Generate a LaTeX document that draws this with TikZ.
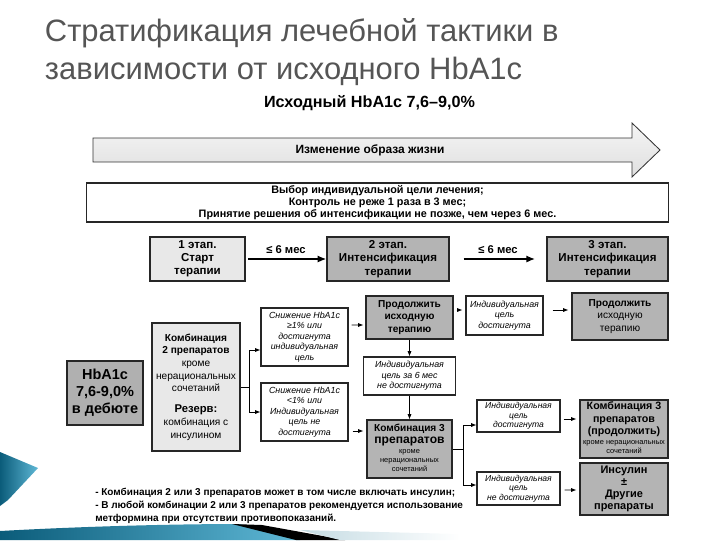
\documentclass[tikz,border=0pt]{standalone}
\usepackage{fontspec}
\setmainfont{Liberation Sans}
\usepackage{xcolor}
\usetikzlibrary{arrows.meta,positioning,calc}

\definecolor{boxgray}{HTML}{B4B4B4}
\definecolor{boxlight}{HTML}{E8E8E8}
\definecolor{titlegray}{HTML}{555555}
\definecolor{tealdark}{HTML}{0B5C7A}
\definecolor{teallight}{HTML}{5FB8D6}

\newcommand{\smallrows}[1]{{\mdseries\fontsize{5.3}{6.3}\selectfont\begin{tabular}{@{}c@{}}#1\end{tabular}}}

\begin{document}
\begin{tikzpicture}[
    x=0.025cm, y=-0.025cm,
    box/.style={rectangle, draw=black!85, line width=0.8pt, align=center, inner sep=1pt, font=\fontsize{7.2}{9}\selectfont},
    stagebox/.style={box, fill=boxgray, minimum height=1.1cm, font=\bfseries\fontsize{8.2}{9.4}\selectfont},
    goalbox/.style={box, fill=white, font=\itshape\fontsize{6.3}{7.4}\selectfont},
    tightgoal/.style={goalbox, font=\itshape\fontsize{6.1}{6.8}\selectfont},
    darkbox/.style={box, fill=boxgray, font=\bfseries\fontsize{7.2}{8.6}\selectfont},
    arrow/.style={-{Latex[length=2.2mm,width=1.8mm]}, line width=1.6pt},
    link/.style={-{Latex[length=1.3mm,width=1mm]}, line width=0.5pt}
]
\useasboundingbox (0,0) rectangle (720,540);

% background swoosh
\shade[left color=tealdark, right color=teallight] (0,452) -- (38,468) -- (8,500) -- (0,506) -- cycle;
\shade[left color=tealdark, right color=teallight] (0,540) -- (0,531) .. controls (90,526) and (180,524) .. (240,524) -- (300,540) -- cycle;
\fill[black] (232,524) -- (262,525) -- (345,540) -- (296,540) -- cycle;
\shade[left color=gray!35!teallight!40, right color=white] (300,530) -- (460,534) -- (460,540) -- (340,540) -- cycle;

% title
\node[anchor=west, align=left, text=titlegray, font=\fontsize{22}{26.5}\selectfont] (title) at (40,52)
  {Стратификация лечебной тактики в\\зависимости от исходного HbA1c};
\node[font=\bfseries\fontsize{11.5}{13}\selectfont] (start) at (369.5,103) {Исходный HbA1c 7,6–9,0\%};

% lifestyle arrow
\draw[draw=black!80, line width=0.6pt, top color=gray!8, bottom color=gray!25]
  (93,138) -- (632,138) -- (632,123) -- (660,150) -- (632,177) -- (632,162) -- (93,162) -- cycle;
\node[font=\bfseries\fontsize{8.5}{10}\selectfont] (life) at (370,150) {Изменение образа жизни};

\node[box, minimum width=14.525cm, minimum height=0.975cm, font=\bfseries\fontsize{7.7}{8.6}\selectfont] (goal) at (377.5,202.5)
  {Выбор индивидуальной цели лечения;\\Контроль не реже 1 раза в 3 мес;\\Принятие решения об интенсификации не позже, чем через 6 мес.};

% stages
\node[stagebox, fill=boxlight, minimum width=2.375cm] (st1) at (197.5,259) {1 этап.\\Старт\\терапии};
\node[stagebox, minimum width=3.05cm] (st2) at (388,259) {2 этап.\\Интенсификация\\терапии};
\node[stagebox, minimum width=3.025cm] (st3) at (607.5,259) {3 этап.\\Интенсификация\\терапии};

% left column
\node[box, fill=gray!62, minimum width=1.9cm, minimum height=1.6cm, font=\bfseries\fontsize{10.3}{12}\selectfont] (hb) at (105,393)
  {HbA1c\\7,6-9,0\%\\в дебюте};
\node[box, fill=boxlight, minimum width=2.2cm, minimum height=3.2cm] (comb2) at (196,387)
  {{\bfseries Комбинация}\\{\bfseries 2 препаратов}\\кроме\\нерациональных\\сочетаний\\[6pt]{\bfseries\fontsize{8}{9}\selectfont Резерв:}\\комбинация с\\инсулином};

\node[goalbox, minimum width=2.175cm, minimum height=1.45cm] (dec1) at (304.5,337)
  {Снижение HbA1c\\≥1\% или\\достигнута\\индивидуальная\\цель};
\node[goalbox, minimum width=2.175cm, minimum height=1.45cm] (dec2) at (304.5,412)
  {Снижение HbA1c\\<1\% или\\Индивидуальная\\цель не\\достигнута};

% middle column
\node[darkbox, minimum width=2.175cm, minimum height=1.075cm] (cont2) at (409.5,317.5) {Продолжить\\исходную\\терапию};
\node[goalbox, minimum width=2.3cm, minimum height=0.95cm] (miss6) at (409.5,376) {Индивидуальная\\цель за 6 мес\\не достигнута};
\node[darkbox, minimum width=2.125cm, minimum height=1.45cm] (comb3) at (409.5,449)
  {Комбинация 3\\{\fontsize{8.6}{10}\selectfont препаратов}\\\smallrows{кроме\\нерациональных\\сочетаний}};

\node[goalbox, minimum width=1.925cm, minimum height=0.975cm] (goal1) at (504.5,315.5) {Индивидуальная\\цель\\достигнута};
\node[tightgoal, minimum width=2.075cm, minimum height=0.8cm] (goal2) at (518.5,416) {Индивидуальная\\цель\\достигнута};
\node[tightgoal, minimum width=2.075cm, minimum height=0.825cm] (miss2) at (518.5,488.5) {Индивидуальная\\цель\\не достигнута};

% right column
\node[darkbox, minimum width=2.4cm, minimum height=1.175cm] (cont3) at (620,316.5) {Продолжить\\{\mdseries исходную}\\{\mdseries терапию}};
\node[darkbox, minimum width=2.2cm, minimum height=1.45cm, font=\bfseries\fontsize{7.6}{8.8}\selectfont] (comb3p) at (624,429)
  {Комбинация 3\\препаратов\\(продолжить)\\\smallrows{кроме нерациональных\\сочетаний}};
\node[darkbox, minimum width=2.2cm, minimum height=1.3cm, font=\bfseries\fontsize{7.8}{8.6}\selectfont] (ins) at (624,489) {Инсулин\\±\\Другие\\препараты};

% note
\node[anchor=north west, align=left, inner sep=0pt, font=\bfseries\fontsize{7.1}{9.2}\selectfont] (note) at (95,488)
  {- Комбинация 2 или 3 препаратов может в том числе включать инсулин;\\- В любой комбинации 2 или 3 препаратов рекомендуется использование\\метформина при отсутствии противопоказаний.};

% connectors
\draw[arrow, shorten <=2pt] (st1) -- node[above, font=\bfseries\fontsize{8}{9}\selectfont] {≤ 6 мес} (st2);
\draw[arrow, shorten <=10pt, shorten >=8pt] (st2) -- node[above, font=\bfseries\fontsize{8}{9}\selectfont] {≤ 6 мес} (st3);

\draw[line width=0.5pt] (comb2.east) -- ++(9,0) coordinate (fork1);
\draw[link] (fork1) |- ($(dec1.west)+(0,13)$);
\draw[link] (fork1) |- (dec2.west);

\draw[link] ($(dec1.east)+(3,-12)$) -- ($(cont2.west)+(-2,7.5)$);
\draw[link] ($(cont2.east)+(3,-7.5)$) -- ($(goal1.west)+(-3,-5.5)$);
\draw[link] ($(goal1.east)+(9,-5.5)$) -- ($(cont3.west)+(-3,-6.5)$);
\draw[link] (cont2) -- (miss6);
\draw[link] (miss6) -- (comb3);
\draw[link] ($(dec2.east)+(4,19)$) -- ($(comb3.west)+(-3,-18)$);

\draw[line width=0.5pt] (comb3.east) -- ++(11,0) coordinate (fork2);
\draw[link] (fork2) |- ($(goal2.west)+(0,9)$);
\draw[link] (fork2) |- ($(miss2.west)+(0,-3.5)$);
\draw[link] ($(goal2.east)+(3,3)$) -- ($(comb3p.west)+(-3,-10)$);
\draw[link] ($(miss2.east)+(4,1.5)$) -- ($(ins.west)+(-3,1)$);
\end{tikzpicture}
\end{document}
